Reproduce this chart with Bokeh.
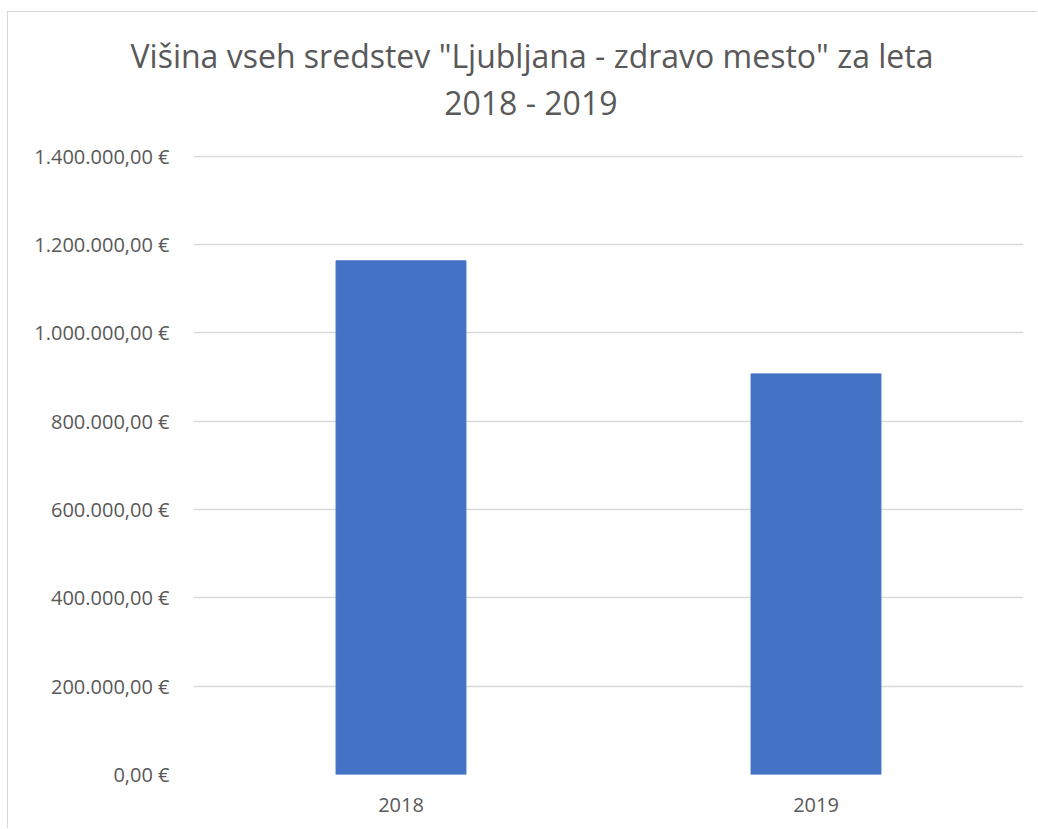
from bokeh.plotting import figure
from bokeh.models import FixedTicker, Title, Range1d
from bokeh.embed import file_html
from bokeh.resources import INLINE

years = ["2018", "2019"]
amounts = [1163000, 907000]
y_ticks = [0, 200000, 400000, 600000, 800000, 1000000, 1200000, 1400000]
y_tick_labels = ["0,00 €", "200.000,00 €", "400.000,00 €", "600.000,00 €",
                 "800.000,00 €", "1.000.000,00 €", "1.200.000,00 €", "1.400.000,00 €"]
title_lines = ['Višina vseh sredstev "Ljubljana - zdravo mesto" za leta', "2018 - 2019"]

FONT = "Open Sans"
GRAY = "#595959"

p = figure(x_range=years, y_range=Range1d(0, 1401500), width=1030, height=817,
           output_backend="svg", toolbar_location=None,
           min_border_left=185, min_border_right=15, min_border_top=143, min_border_bottom=55,
           styles={"margin-left": "7px", "margin-top": "11px",
                   "border-left": "1px solid #d9d9d9", "border-top": "1px solid #d9d9d9"})
p.vbar(x=years, top=amounts, width=0.313, color="#4472C4")

p.outline_line_color = None
p.background_fill_color = "white"
p.border_fill_color = "white"
p.xgrid.grid_line_color = None
p.ygrid.grid_line_color = "#d9d9d9"
p.ygrid.grid_line_width = 1.3

p.yaxis.ticker = FixedTicker(ticks=y_ticks)
p.yaxis.major_label_overrides = {t: l for t, l in zip(y_ticks, y_tick_labels)}
for ax in (p.xaxis[0], p.yaxis[0]):
    ax.axis_line_color = None
    ax.major_tick_line_color = None
    ax.minor_tick_line_color = None
    ax.major_label_text_font = FONT
    ax.major_label_text_font_size = "20px"
    ax.major_label_text_color = GRAY
p.yaxis.major_label_standoff = 18
p.xaxis.major_label_standoff = 17

# spacer between title and plot area
p.add_layout(Title(text=" ", standoff=28, text_font=FONT, text_font_size="1px"), "above")
p.add_layout(Title(text=title_lines[1], align="right", offset=406, standoff=2,
                   text_font=FONT, text_font_size="32px", text_font_style="normal",
                   text_color=GRAY), "above")
p.add_layout(Title(text=title_lines[0], align="right", offset=90, standoff=2,
                   text_font=FONT, text_font_size="32px", text_font_style="normal",
                   text_color=GRAY), "above")

open("out.html", "w").write(file_html(p, INLINE))
